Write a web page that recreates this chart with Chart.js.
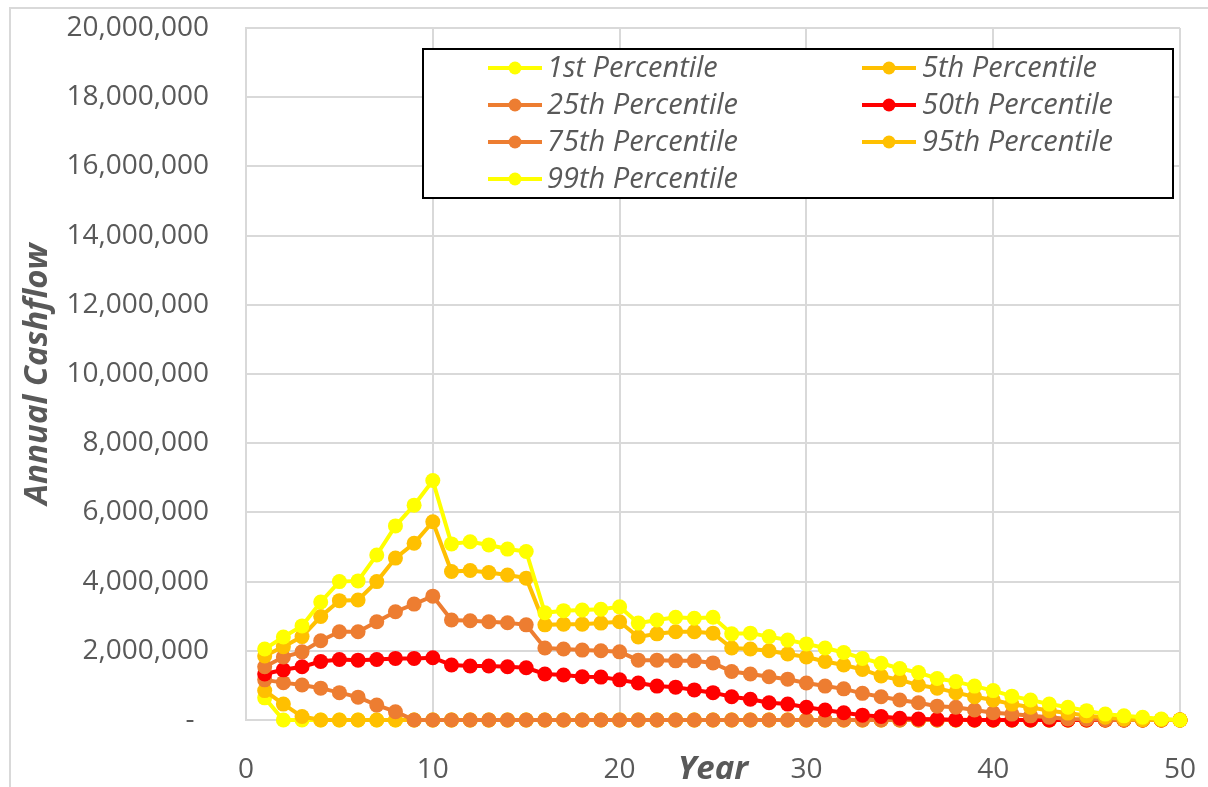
<!DOCTYPE html>
<html>
<head>
<meta charset="utf-8">
<script src="https://cdn.jsdelivr.net/npm/chart.js@4.4.1/dist/chart.umd.min.js"></script>
<style>
  html, body { margin: 0; padding: 0; background: #fff; overflow: hidden; }
  canvas { display: block; }
</style>
</head>
<body>
<canvas id="cashflow" width="1208" height="787"></canvas>
<script>
// Projection years
const years = [1,2,3,4,5,6,7,8,9,10,11,12,13,14,15,16,17,18,19,20,21,22,23,24,25,
               26,27,28,29,30,31,32,33,34,35,36,37,38,39,40,41,42,43,44,45,46,47,48,49,50];

// Annual cashflow by percentile
const p1 = [640000,0,0,0,0,0,0,0,0,0, 0,0,0,0,0,0,0,0,0,0, 0,0,0,0,0,0,0,0,0,0,
            0,0,0,0,0,0,0,0,0,0, 0,0,0,0,0,0,0,0,0,0];
const p5 = [850000,460000,100000,0,0,0,0,0,0,0, 0,0,0,0,0,0,0,0,0,0, 0,0,0,0,0,0,0,0,0,0,
            0,0,0,0,0,0,0,0,0,0, 0,0,0,0,0,0,0,0,0,0];
const p25 = [1160000,1080000,1010000,920000,790000,660000,430000,240000,0,0,
             0,0,0,0,0,0,0,0,0,0, 0,0,0,0,0,0,0,0,0,0,
             0,0,0,0,0,0,0,0,0,0, 0,0,0,0,0,0,0,0,0,0];
const p50 = [1330000,1450000,1540000,1690000,1750000,1730000,1750000,1780000,1780000,1800000,
             1590000,1560000,1560000,1540000,1510000,1330000,1300000,1250000,1240000,1160000,
             1070000,980000,950000,870000,790000,670000,600000,500000,460000,370000,
             290000,210000,140000,100000,50000,30000,20000,10000,0,0,
             0,0,0,0,0,0,0,0,0,0];
const p75 = [1540000,1820000,1970000,2290000,2550000,2550000,2840000,3130000,3350000,3580000,
             2890000,2870000,2840000,2810000,2750000,2080000,2050000,2020000,2000000,1970000,
             1730000,1730000,1710000,1710000,1650000,1400000,1330000,1250000,1180000,1070000,
             980000,900000,770000,670000,580000,500000,400000,370000,290000,210000,
             170000,120000,80000,30000,20000,10000,0,0,0,0];
const p95 = [1850000,2120000,2410000,2990000,3450000,3470000,4000000,4680000,5110000,5730000,
             4290000,4320000,4260000,4190000,4100000,2750000,2770000,2770000,2800000,2840000,
             2400000,2490000,2550000,2550000,2510000,2080000,2050000,2000000,1910000,1820000,
             1690000,1590000,1460000,1270000,1160000,1010000,920000,790000,670000,580000,
             460000,370000,270000,200000,120000,80000,30000,10000,10000,0];
const p99 = [2050000,2400000,2720000,3410000,4000000,4020000,4770000,5610000,6210000,6920000,
             5090000,5150000,5060000,4940000,4870000,3100000,3160000,3180000,3200000,3270000,
             2800000,2890000,2970000,2940000,2970000,2490000,2510000,2410000,2310000,2200000,
             2080000,1950000,1780000,1640000,1490000,1370000,1200000,1110000,980000,850000,
             690000,580000,460000,370000,270000,170000,120000,80000,30000,0];

const seriesNames = ['1st Percentile','5th Percentile','25th Percentile','50th Percentile',
                     '75th Percentile','95th Percentile','99th Percentile'];
const seriesValues = [p1, p5, p25, p50, p75, p95, p99];
const seriesColors = ['#FFFF00','#FFC000','#ED7D31','#FF0000','#ED7D31','#FFC000','#FFFF00'];

const TEXT = '#595959';
const GRID = '#D9D9D9';
const FONT = '"Open Sans", "DejaVu Sans", sans-serif';

const datasets = seriesValues.map((vals, i) => ({
  label: seriesNames[i],
  data: years.map((yr, k) => ({ x: yr, y: vals[k] })),
  borderColor: seriesColors[i],
  backgroundColor: seriesColors[i],
  pointBackgroundColor: seriesColors[i],
  pointBorderWidth: 0,
  pointRadius: 7.5,
  borderWidth: 4,
  tension: 0,
  clip: false,
  order: seriesValues.length - i   // later percentiles are painted on top
}));

// Light outer frame of the chart object
const framePlugin = {
  id: 'frame',
  beforeDraw(chart) {
    const ctx = chart.ctx;
    ctx.save();
    ctx.fillStyle = '#fff';
    ctx.fillRect(0, 0, chart.width, chart.height);
    ctx.strokeStyle = GRID;
    ctx.lineWidth = 2;
    ctx.beginPath();
    ctx.moveTo(10, chart.height);
    ctx.lineTo(10, 8);
    ctx.lineTo(chart.width, 8);
    ctx.stroke();
    ctx.restore();
  }
};

// Boxed two-column legend inside the plot
const boxLegend = {
  id: 'boxLegend',
  afterDraw(chart) {
    const ctx = chart.ctx;
    const box = { left: 423, top: 49, right: 1173, bottom: 198 };
    const cols = [{ line: 488, text: 547 }, { line: 862, text: 922 }];
    const rowTop = 68, rowStep = 37, lineLen = 54;
    ctx.save();
    ctx.fillStyle = '#fff';
    ctx.fillRect(box.left, box.top, box.right - box.left, box.bottom - box.top);
    ctx.strokeStyle = '#000';
    ctx.lineWidth = 2;
    ctx.strokeRect(box.left, box.top, box.right - box.left, box.bottom - box.top);
    chart.data.datasets.forEach((ds, i) => {
      const col = cols[i % 2];
      const y = rowTop + Math.floor(i / 2) * rowStep;
      ctx.strokeStyle = ds.borderColor;
      ctx.lineWidth = 4;
      ctx.beginPath();
      ctx.moveTo(col.line, y);
      ctx.lineTo(col.line + lineLen, y);
      ctx.stroke();
      ctx.fillStyle = ds.borderColor;
      ctx.beginPath();
      ctx.arc(col.line + lineLen / 2, y, 6.5, 0, Math.PI * 2);
      ctx.fill();
      ctx.fillStyle = TEXT;
      ctx.font = 'italic 29px ' + FONT;
      ctx.textAlign = 'left';
      ctx.textBaseline = 'middle';
      ctx.fillText(ds.label, col.text, y + 1);
    });
    ctx.restore();
  }
};

// Scales keep a fixed footprint so the plot area sits where intended
function fixScale(size) {
  return scale => {
    if (scale.isHorizontal()) scale.height = size; else scale.width = size;
    scale.paddingTop = 0; scale.paddingBottom = 0;
    scale.paddingLeft = 0; scale.paddingRight = 0;
  };
}

new Chart(document.getElementById('cashflow'), {
  type: 'line',
  data: { datasets },
  plugins: [framePlugin, boxLegend],
  options: {
    responsive: false,
    maintainAspectRatio: false,
    animation: false,
    devicePixelRatio: 1,
    layout: { autoPadding: false, padding: { top: 28, right: 28, bottom: 0, left: 0 } },
    plugins: { legend: { display: false }, tooltip: { enabled: false }, title: { display: false } },
    scales: {
      x: {
        type: 'linear',
        min: 0, max: 50,
        ticks: { stepSize: 10, color: TEXT, font: { family: FONT, size: 28 }, padding: 33, maxRotation: 0 },
        grid: { color: GRID, lineWidth: 2, drawTicks: false },
        border: { color: GRID, width: 2 },
        title: { display: true, text: 'Year', color: TEXT,
                 font: { family: FONT, size: 33, style: 'italic', weight: 'bold' },
                 padding: { top: 0, bottom: -2 } },
        afterFit: fixScale(67)
      },
      y: {
        min: 0, max: 20000000,
        ticks: {
          stepSize: 2000000, color: TEXT, font: { family: FONT, size: 28 }, padding: 37,
          callback: v => v === 0 ? '-  ' : v.toLocaleString('en-US')
        },
        grid: { color: GRID, lineWidth: 2, drawTicks: false },
        border: { color: GRID, width: 2 },
        title: { display: true, text: 'Annual Cashflow', color: TEXT,
                 font: { family: FONT, size: 33, style: 'italic', weight: 'bold' },
                 padding: { top: 18, bottom: 0 } },
        afterFit: fixScale(246)
      }
    }
  }
});
</script>
</body>
</html>
